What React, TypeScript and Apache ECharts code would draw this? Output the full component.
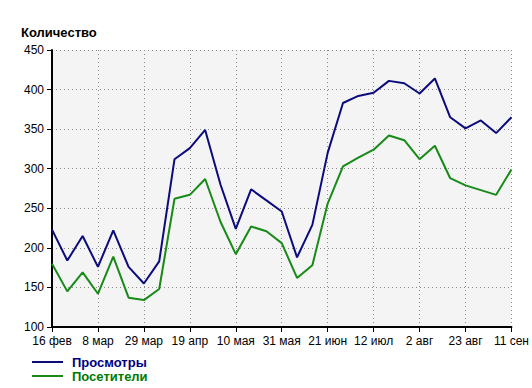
import React, { useEffect, useRef } from "react";
import * as echarts from "echarts";

const categories = [
  "16 фев", "23 фев", "1 мар", "8 мар", "15 мар", "22 мар", "29 мар", "5 апр",
  "12 апр", "19 апр", "26 апр", "3 мая", "10 мая", "17 мая", "24 мая", "31 мая",
  "7 июн", "14 июн", "21 июн", "28 июн", "5 июл", "12 июл", "19 июл", "26 июл",
  "2 авг", "9 авг", "16 авг", "23 авг", "30 авг", "6 сен", "11 сен",
];

const views = [
  223, 184, 215, 176, 222, 176, 155, 183, 312, 326, 349, 280, 224, 274, 260, 246,
  188, 229, 320, 383, 392, 396, 411, 408, 395, 414, 365, 351, 361, 345, 365,
];

const visitors = [
  180, 145, 169, 142, 189, 137, 134, 148, 262, 267, 287, 233, 192, 227, 221, 206,
  162, 178, 256, 303, 314, 324, 342, 336, 312, 329, 288, 279, 273, 267, 299,
];

const yTitle = "Количество";
const seriesNames = ["Просмотры", "Посетители"];
const colors = ["#0b0b7d", "#178a17"];
const textColors = ["#000080", "#007a00"];

export default function App() {
  const ref = useRef<HTMLDivElement>(null);
  useEffect(() => {
    document.body.style.margin = "0";
    const chart = echarts.init(ref.current!, null, { renderer: "svg" });
    const font = "'Liberation Sans', Arial, sans-serif";
    chart.setOption({
      animation: false,
      backgroundColor: "#ffffff",
      title: {
        text: yTitle,
        left: 21,
        top: 26,
        padding: 0,
        textStyle: { fontFamily: font, fontSize: 13, fontWeight: "bold", color: "#000" },
      },
      legend: {
        orient: "vertical",
        left: 32,
        top: 355,
        padding: 0,
        itemGap: 0,
        itemWidth: 31,
        itemHeight: 2,
        icon: "rect",
        textStyle: { fontFamily: font, fontSize: 13, fontWeight: "bold", lineHeight: 14, padding: [0, 0, 0, 4] },
        data: seriesNames.map((n, i) => ({ name: n, textStyle: { color: textColors[i] } })),
      },
      grid: { left: 52, right: 20, top: 50, bottom: 61, backgroundColor: "#f4f4f4", show: true, borderWidth: 0 },
      xAxis: {
        type: "category",
        boundaryGap: false,
        data: categories,
        axisLine: { show: true, lineStyle: { color: "#000", width: 2 } },
        axisTick: { show: true, interval: 2, length: 5, lineStyle: { color: "#000" } },
        axisLabel: { interval: 2, color: "#000", fontFamily: font, fontSize: 12, margin: 8 },
        splitLine: { show: true, interval: 2, lineStyle: { color: "#888", type: [1, 3], width: 1 } },
      },
      yAxis: {
        type: "value",
        min: 100,
        max: 450,
        interval: 50,
        axisLine: { show: true, lineStyle: { color: "#000", width: 2 } },
        axisTick: { show: true, length: 5, lineStyle: { color: "#000" } },
        axisLabel: { color: "#000", fontFamily: font, fontSize: 12, margin: 8 },
        splitLine: { show: true, lineStyle: { color: "#888", type: [1, 3], width: 1 } },
      },
      series: [
        {
          name: seriesNames[0],
          type: "line",
          data: views,
          symbol: "none",
          lineStyle: { color: colors[0], width: 2 },
          itemStyle: { color: colors[0] },
        },
        {
          name: seriesNames[1],
          type: "line",
          data: visitors,
          symbol: "none",
          lineStyle: { color: colors[1], width: 2 },
          itemStyle: { color: colors[1] },
        },
      ],
    });
    return () => chart.dispose();
  }, []);
  return <div ref={ref} style={{ width: 532, height: 388 }} />;
}
